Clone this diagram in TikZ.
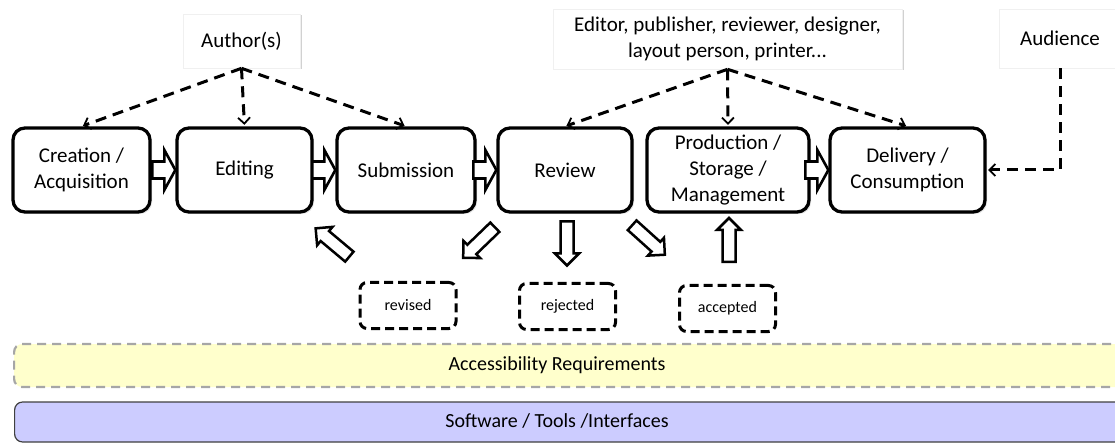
\documentclass[tikz,border=0pt]{standalone}
\usepackage{fontspec}
\setmainfont{Carlito}
\usetikzlibrary{arrows.meta,shadows,calc}
\definecolor{bandyellow}{RGB}{255,255,204}
\definecolor{bandpurple}{RGB}{204,204,255}
\definecolor{bandgray}{RGB}{166,166,166}
\definecolor{banddark}{RGB}{64,64,64}
\tikzset{
  flowarr/.pic={\draw[line width=2.6pt, fill=white, line join=miter]
      (-11,-8.5) -- (1,-8.5) -- (1,-20) -- (12,0) -- (1,20) -- (1,8.5) -- (-11,8.5) -- cycle;},
  outarr/.pic={\draw[line width=2.5pt, fill=white, line join=miter]
      (-22,-6.5) -- (10,-6.5) -- (10,-12) -- (22,0) -- (10,12) -- (10,6.5) -- (-22,6.5) -- cycle;}
}
\begin{document}
\begin{tikzpicture}[x=1pt,y=-1pt,
  stage/.style={draw, line width=3.3pt, rounded corners=12pt, fill=white,
    minimum height=84pt, align=center, inner sep=0pt,
    font=\fontsize{21}{25.6}\selectfont,
    drop shadow={shadow xshift=2pt, shadow yshift=-2pt, opacity=0.25}},
  actor/.style={draw=gray!12, line width=0.6pt, fill=white, align=center, inner sep=0pt,
    font=\fontsize{21}{25.6}\selectfont,
    drop shadow={shadow xshift=1.5pt, shadow yshift=-1.5pt, fill=gray!60, opacity=0.6}},
  outcome/.style={draw, line width=3pt, dash pattern=on 9pt off 5pt, rounded corners=7pt,
    minimum width=96pt, minimum height=46pt, inner sep=0pt,
    font=\fontsize{16}{19}\selectfont},
  role/.style={line width=3pt, dash pattern=on 11pt off 7pt, shorten >=1.5pt,
    -{Straight Barb[length=6pt,width=12pt,line width=1.8pt]}},
  band/.style={rounded corners=8pt, minimum height=43pt, inner sep=0pt,
    font=\fontsize{20}{24}\selectfont}
]
\useasboundingbox (0,0) rectangle (1115,443);

% stages
\node[stage, minimum width=137pt] (cre) at (81.5,170) {Creation /\\Acquisition};
\node[stage, minimum width=135pt] (edi) at (244.5,170) {Editing};
\node[stage, minimum width=138pt] (sub) at (406,170) {Submission};
\node[stage, minimum width=134pt] (rev) at (565,170) {Review};
\node[stage, minimum width=162pt] (pro) at (728,170) {Production /\\Storage /\\Management};
\node[stage, minimum width=155pt] (del) at (907.5,170) {Delivery /\\Consumption};

% actors
\node[actor, minimum width=117pt, minimum height=54pt] (auth) at (241.5,41) {Author(s)};
\node[actor, minimum width=349pt, minimum height=60pt] (edr) at (727.5,39)
  {Editor, publisher, reviewer, designer,\\layout person, printer...};
\node[actor, minimum width=122pt, minimum height=59pt] (aud) at (1060,38.5) {Audience};

% role connectors
\draw[role] (auth.south) -- (cre.north);
\draw[role] (auth.south) -- (edi.north);
\draw[role] (auth.south) -- (sub.north);
\draw[role] (edr.south) -- (rev.north);
\draw[role] (edr.south) -- (pro.north);
\draw[role] (edr.south) -- (del.north);
\draw[role] (aud.south) |- (del.east);

% flow arrows
\pic at ($(edi.west)+(-12,0)$) {flowarr};
\pic at ($(sub.west)+(-12,0)$) {flowarr};
\pic at ($(rev.west)+(-12,0)$) {flowarr};
\pic at ($(del.west)+(-12,0)$) {flowarr};

% outcomes
\node[outcome] (revd) at (408,305.5) {revised};
\node[outcome] (rejd) at (567.5,306.5) {rejected};
\node[outcome] (accd) at (727.5,308.5) {accepted};

\pic[rotate=140] at (332.5,242.5) {outarr};
\pic[rotate=224] at (479,242.5) {outarr};
\pic[rotate=270] at (567,243.5) {outarr};
\pic[rotate=-42] at (648.5,240) {outarr};
\pic[rotate=90] at (729,240) {outarr};

% bands
\node[band, draw=bandgray, line width=2.2pt, dash pattern=on 9pt off 6pt, fill=bandyellow,
  minimum width=1120pt, anchor=west] (acc) at (13,365.5) {};
\node[font=\fontsize{20}{24}\selectfont] at (557,365.5) {Accessibility Requirements};
\node[band, draw=banddark, line width=1.2pt, fill=bandpurple,
  minimum width=1120pt, minimum height=40pt, anchor=west] (sw) at (14,422) {};
\node[font=\fontsize{20}{24}\selectfont] at (557,421) {Software / Tools /Interfaces};
\end{tikzpicture}
\end{document}
